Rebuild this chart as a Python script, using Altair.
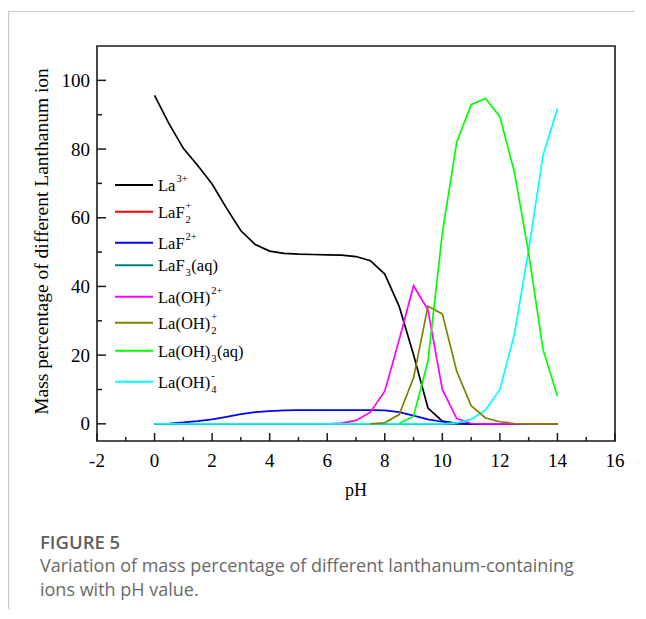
import altair as alt
import pandas as pd

# ---------------- data ----------------
ph_full = [0, 0.5, 1, 1.5, 2, 2.5, 3, 3.5, 4, 4.5, 5, 5.5, 6, 6.5, 7, 7.5,
           8, 8.5, 9, 9.5, 10, 10.5, 11, 11.5, 12, 12.5, 13, 13.5, 14]
la3 = [95.6, 87.4, 80.2, 75.2, 69.8, 62.8, 56.2, 52.2, 50.3, 49.6, 49.4, 49.3,
       49.2, 49.1, 48.7, 47.5, 43.6, 34.2, 20.1, 4.6, 0.8, 0.1, 0, 0, 0, 0, 0, 0, 0]
laf2_p = [0, 0, 0, 0, 0, 0, 0, 0, 0, 0, 0, 0, 0, 0, 0, 0,
          0, 0, 0, 0, 0, 0, 0, 0, 0, 0, 0, 0, 0]
laf_2p = [0, 0.1, 0.4, 0.8, 1.3, 2.0, 2.8, 3.4, 3.7, 3.9, 4.0, 4.0, 4.0, 4.0,
          4.0, 4.0, 3.9, 3.4, 2.4, 1.3, 0.6, 0.2, 0, 0, 0, 0, 0, 0, 0]
laf3 = [0, 0, 0, 0, 0, 0, 0, 0, 0, 0, 0, 0, 0, 0, 0, 0,
        0, 0, 0, 0, 0, 0, 0, 0, 0, 0, 0, 0, 0]
ph_oh = [6, 6.5, 7, 7.5, 8, 8.5, 9, 9.5, 10, 10.5, 11, 11.5, 12, 12.5, 13, 13.5, 14]
laoh_2p = [0, 0.2, 1.0, 3.4, 9.5, 24.5, 40.2, 33.2, 10.0, 1.5, 0.1, 0, 0, 0, 0, 0, 0]
ph_oh2 = [7.5, 8, 8.5, 9, 9.5, 10, 10.5, 11, 11.5, 12, 12.5, 13, 13.5, 14]
laoh2_p = [0, 0.3, 2.7, 13.4, 34.2, 32.0, 15.3, 5.3, 1.7, 0.6, 0.1, 0, 0, 0]
ph_oh3 = [8.5, 9, 9.5, 10, 10.5, 11, 11.5, 12, 12.5, 13, 13.5, 14]
laoh3 = [0.1, 2.2, 18.2, 55.5, 82.0, 92.9, 94.7, 89.4, 73.4, 49.7, 21.6, 8.0]
laoh4_m = [0, 0, 0, 0, 0, 0, 0, 0, 0, 0, 0, 0, 0, 0, 0, 0, 0, 0, 0, 0, 0,
           0.3, 1.3, 4.0, 10.0, 26.0, 50.6, 78.2, 91.8]

x_ticks_major = [-2, 0, 2, 4, 6, 8, 10, 12, 14, 16]
x_ticks_minor = [-1, 1, 3, 5, 7, 9, 11, 13, 15]
y_ticks_major = [0, 20, 40, 60, 80, 100]
y_ticks_minor = [10, 30, 50, 70, 90]
x_tick_labels = ["-2", "0", "2", "4", "6", "8", "10", "12", "14", "16"]
y_tick_labels = ["0", "20", "40", "60", "80", "100"]

# legend labels: (base, superscript, subscript, tail)
legend_labels = [("La", "3+", "", ""), ("LaF", "+", "2", ""), ("LaF", "2+", "", ""),
                 ("LaF", "", "3", "(aq)"), ("La(OH)", "2+", "", ""),
                 ("La(OH)", "+", "2", ""), ("La(OH)", "", "3", "(aq)"),
                 ("La(OH)", "-", "4", "")]
legend_colors = ["#000000", "#FF0000", "#0000FF", "#008080",
                 "#FF00FF", "#808000", "#00FF00", "#00FFFF"]

caption_title = "FIGURE 5"
caption_lines = ["Variation of mass percentage of different lanthanum-containing",
                 "ions with pH value."]

# (name, x list, y list, color) in drawing order
series = [
    ("LaF2+", ph_full, laf2_p, "#FF0000"),
    ("LaF3(aq)", ph_full, laf3, "#008080"),
    ("La3+", ph_full, la3, "#000000"),
    ("LaF2+ (2+)", ph_full, laf_2p, "#0000FF"),
    ("La(OH)2+", ph_oh, laoh_2p, "#FF00FF"),
    ("La(OH)4-", ph_full, laoh4_m, "#00FFFF"),
    ("La(OH)2+ (+)", ph_oh2, laoh2_p, "#808000"),
    ("La(OH)3(aq)", ph_oh3, laoh3, "#00FF00"),
]

# ---------------- layout ----------------
W, H = 518, 395
XD = [-2, 16]
YD = [-5, 110]
SERIF = "Liberation Serif"
SANS = "Open Sans"

xscale = alt.Scale(domain=XD, nice=False, zero=False)
yscale = alt.Scale(domain=YD, nice=False, zero=False)


def px_x(p):
    return XD[0] + p / W * (XD[1] - XD[0])


def py_y(p):
    return YD[1] - p / H * (YD[1] - YD[0])


TIMES_W = {"L": .611, "a": .444, "F": .556, "(": .333, "O": .722, "H": .722,
           ")": .333, "q": .5, "+": .564, "-": .333}


def tw(s, size):
    return sum(TIMES_W.get(c, .5) for c in s) * size


def X(field):
    return alt.X(field, scale=xscale, axis=None)


def Y(field):
    return alt.Y(field, scale=yscale, axis=None)


layers = []
for name, xs, ys, col in series:
    df = pd.DataFrame({"pH": xs, "v": ys})
    layers.append(
        alt.Chart(df).mark_line(color=col, strokeWidth=1.7).encode(
            x=X("pH:Q"), y=Y("v:Q"))
    )

# inward ticks
for vals, ln in ((y_ticks_major, 9), (y_ticks_minor, 5)):
    layers.append(alt.Chart(pd.DataFrame({"t": vals})).mark_rule(
        color="#1a1a1a", strokeWidth=1.5).encode(
        y=Y("t:Q"), x=alt.value(0), x2=alt.value(ln)))
for vals, ln in ((x_ticks_major, 8), (x_ticks_minor, 4)):
    layers.append(alt.Chart(pd.DataFrame({"t": vals})).mark_rule(
        color="#1a1a1a", strokeWidth=1.5).encode(
        x=X("t:Q"), y=alt.value(H), y2=alt.value(H - ln)))

# tick labels
layers.append(alt.Chart(pd.DataFrame({"t": x_ticks_major, "l": x_tick_labels}))
              .mark_text(font=SERIF, fontSize=19, align="center",
                         baseline="alphabetic", color="black")
              .encode(x=X("t:Q"), y=alt.value(H + 26), text="l:N"))
layers.append(alt.Chart(pd.DataFrame({"t": y_ticks_major, "l": y_tick_labels}))
              .mark_text(font=SERIF, fontSize=19, align="right",
                         baseline="alphabetic", dy=6.5, color="black")
              .encode(y=Y("t:Q"), x=alt.value(-7), text="l:N"))

# manual legend
LEG_ROWS = [139, 165.7, 196.7, 219.3, 250.7, 276.7, 304.7, 335.7]
BASE_FS, SMALL_FS = 16.5, 10.5
seg_rows, txt_rows = [], []
for (base, sup, sub, tail), col, ry in zip(legend_labels, legend_colors, LEG_ROWS):
    seg_rows.append({"x": px_x(18), "x2": px_x(56), "y": py_y(ry), "c": col})
    bl = ry + 6
    x0 = 61
    txt_rows.append({"t": base, "x": px_x(x0), "y": py_y(bl), "s": BASE_FS})
    xe = x0 + tw(base, BASE_FS) + 1
    wmax = 0
    if sup:
        txt_rows.append({"t": sup, "x": px_x(xe), "y": py_y(bl - 9), "s": SMALL_FS})
        wmax = max(wmax, tw(sup, SMALL_FS))
    if sub:
        txt_rows.append({"t": sub, "x": px_x(xe), "y": py_y(bl + 5), "s": SMALL_FS})
        wmax = max(wmax, tw(sub, SMALL_FS))
    if tail:
        txt_rows.append({"t": tail, "x": px_x(xe + wmax + 0.5), "y": py_y(bl), "s": BASE_FS})

layers.append(alt.Chart(pd.DataFrame(seg_rows)).mark_rule(strokeWidth=2).encode(
    x=X("x:Q"), x2="x2:Q", y=Y("y:Q"),
    color=alt.Color("c:N", scale=None)))
layers.append(alt.Chart(pd.DataFrame(txt_rows)).mark_text(
    font=SERIF, align="left", baseline="alphabetic", color="black").encode(
    x=X("x:Q"), y=Y("y:Q"), text="t:N", size=alt.Size("s:Q", scale=None)))

one = pd.DataFrame({"k": [0]})
# axis titles
layers.append(alt.Chart(one).mark_text(
    font=SERIF, fontSize=19.5, angle=270, align="center", baseline="middle",
    color="black").encode(x=alt.value(-55), y=alt.value(H / 2 - 2),
                          text=alt.value("Mass percentage of different Lanthanum ion")))
layers.append(alt.Chart(one).mark_text(
    font=SERIF, fontSize=18, align="center", baseline="alphabetic",
    color="black").encode(x=alt.value(W / 2), y=alt.value(450), text=alt.value("pH")))

# caption
layers.append(alt.Chart(one).mark_text(
    font=SANS, fontSize=18.5, fontWeight=600, align="left", baseline="alphabetic",
    color="#5f5f5f").encode(x=alt.value(-57), y=alt.value(503),
                            text=alt.value(caption_title)))
for i, line in enumerate(caption_lines):
    layers.append(alt.Chart(one).mark_text(
        font=SANS, fontSize=18, align="left", baseline="alphabetic",
        color="#6a6a6a").encode(x=alt.value(-57), y=alt.value(526 + 24 * i),
                                text=alt.value(line)))

# card border (left and top)
layers.append(alt.Chart(one).mark_rule(color="#c8c8c8", strokeWidth=1.2).encode(
    x=alt.value(-88.4), y=alt.value(-35), y2=alt.value(H + 168)))
layers.append(alt.Chart(one).mark_rule(color="#cfcfcf", strokeWidth=1).encode(
    x=alt.value(-88.5), x2=alt.value(W + 20), y=alt.value(-34.5)))

chart = alt.layer(*layers).properties(
    width=W, height=H,
    padding={"left": 89, "top": 38, "right": 20, "bottom": 168},
    autosize=alt.AutoSizeParams(type="none"),
).configure_view(stroke="#1a1a1a", strokeWidth=1.6)

chart.save("out.html", embed_options={"renderer": "svg", "actions": False})
